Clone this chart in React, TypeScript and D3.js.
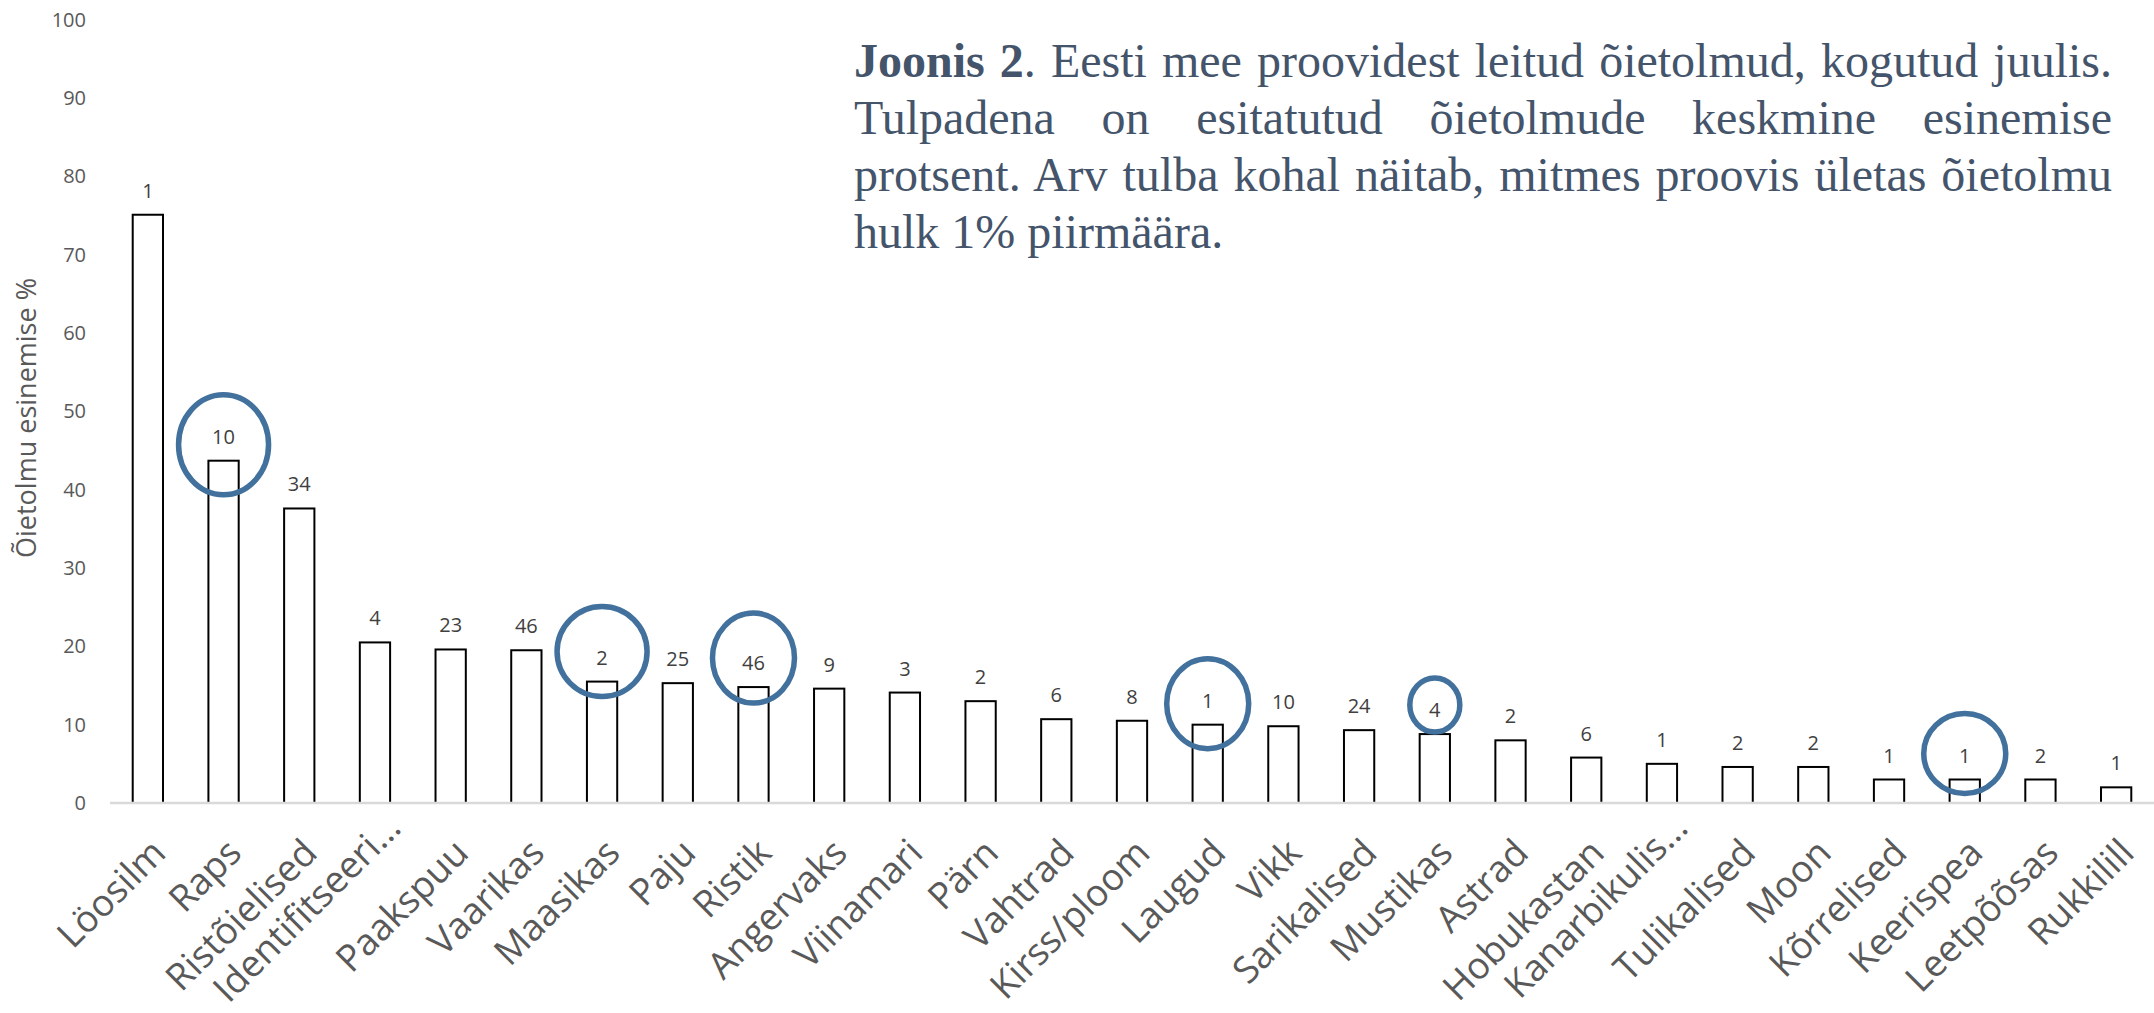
import { useEffect, useRef } from 'react';
import * as d3 from 'd3';

// Pollen types, mean occurrence % and number of samples above the 1% limit
const categories = [
  'Löosilm', 'Raps', 'Ristõielised', 'Identifitseeri…', 'Paakspuu', 'Vaarikas',
  'Maasikas', 'Paju', 'Ristik', 'Angervaks', 'Viinamari', 'Pärn', 'Vahtrad',
  'Kirss/ploom', 'Laugud', 'Vikk', 'Sarikalised', 'Mustikas', 'Astrad',
  'Hobukastan', 'Kanarbikulis…', 'Tulikalised', 'Moon', 'Kõrrelised',
  'Keerispea', 'Leetpõõsas', 'Rukkilill'
];
const values = [
  75.1, 43.7, 37.6, 20.5, 19.6, 19.5, 15.5, 15.3, 14.8, 14.6, 14.1, 13.0, 10.7,
  10.5, 10.0, 9.8, 9.3, 8.8, 8.0, 5.8, 5.0, 4.6, 4.6, 3.0, 3.0, 3.0, 2.0
];
const counts = [
  1, 10, 34, 4, 23, 46, 2, 25, 46, 9, 3, 2, 6, 8, 1, 10, 24, 4, 2, 6, 1, 2, 2, 1, 1, 2, 1
];
const yTicks = [0, 10, 20, 30, 40, 50, 60, 70, 80, 90, 100];
const circled = ['Raps', 'Maasikas', 'Ristik', 'Laugud', 'Mustikas', 'Keerispea'];

const yTitle = 'Õietolmu esinemise %';
const captionBold = 'Joonis 2';
const captionLines = [
  '. Eesti mee proovidest leitud õietolmud, kogutud juulis.',
  'Tulpadena on esitatutud õietolmude keskmine esinemise',
  'protsent. Arv tulba kohal näitab, mitmes proovis ületas õietolmu',
  'hulk 1% piirmäära.'
];

// hand drawn ellipse sizes around some of the labels
const circleShape: Record<string, { rx: number; ry: number; dy: number }> = {
  Raps: { rx: 45, ry: 50, dy: 16 },
  Maasikas: { rx: 45, ry: 45, dy: 30 },
  Ristik: { rx: 41, ry: 45, dy: 29 },
  Laugud: { rx: 41, ry: 45, dy: 21 },
  Mustikas: { rx: 25, ry: 27, dy: 29 },
  Keerispea: { rx: 41, ry: 40, dy: 26 }
};

export default function App() {
  const svgRef = useRef<SVGSVGElement>(null);

  useEffect(() => {
    if (!svgRef.current) return;

    const svg = d3.select(svgRef.current);
    svg.selectAll('*').remove();

    const width = 2154;
    const height = 1013;
    const base = 803;
    const top = 19.7;
    const sans = '"Open Sans", "Segoe UI", sans-serif';

    const data = categories.map((name, i) => ({ name, value: values[i], count: counts[i] }));

    const x = d3.scaleBand()
      .domain(categories)
      .range([110, width])
      .paddingInner(0.6)
      .paddingOuter(0.3);

    const y = d3.scaleLinear()
      .domain([0, 100])
      .range([base, top]);

    svg.append('rect')
      .attr('width', width)
      .attr('height', height)
      .attr('fill', 'white');

    // y axis labels
    const yAxis = svg.append('g')
      .attr('transform', 'translate(86,0)')
      .call(d3.axisLeft(y).tickValues(yTicks).tickSize(0).tickPadding(0));
    yAxis.select('.domain').remove();
    yAxis.selectAll('text')
      .attr('font-family', sans)
      .attr('font-size', 20)
      .attr('fill', '#595959');

    // y axis title
    svg.append('text')
      .attr('transform', 'translate(36,418) rotate(-90)')
      .attr('text-anchor', 'middle')
      .attr('font-family', sans)
      .attr('font-size', 27)
      .attr('fill', '#595959')
      .text(yTitle);

    // bars
    svg.selectAll('.bar')
      .data(data)
      .enter().append('rect')
      .attr('class', 'bar')
      .attr('x', d => x(d.name)!)
      .attr('width', x.bandwidth())
      .attr('y', d => y(d.value))
      .attr('height', d => base - y(d.value))
      .attr('fill', 'white')
      .attr('stroke', '#000')
      .attr('stroke-width', 2);

    // baseline
    svg.append('line')
      .attr('x1', 110)
      .attr('x2', width)
      .attr('y1', base)
      .attr('y2', base)
      .attr('stroke', '#d9d9d9')
      .attr('stroke-width', 2.5);

    // x axis labels, rotated (shortened ones sit a bit further out, like Excel)
    const xAxis = svg.append('g')
      .attr('transform', `translate(0,${base})`)
      .call(d3.axisBottom(x).tickSize(0));
    xAxis.select('.domain').remove();
    xAxis.selectAll<SVGTextElement, string>('text')
      .attr('x', 0)
      .attr('y', 0)
      .attr('dy', 0)
      .attr('text-anchor', 'end')
      .attr('transform', d => d.endsWith('…')
        ? 'translate(28,27) rotate(-45)'
        : 'translate(20,52) rotate(-45)')
      .attr('font-family', sans)
      .attr('font-size', 37)
      .attr('fill', '#595959');

    // count labels
    svg.selectAll('.count')
      .data(data)
      .enter().append('text')
      .attr('class', 'count')
      .attr('x', d => x(d.name)! + x.bandwidth() / 2)
      .attr('y', d => y(d.value) - 17)
      .attr('text-anchor', 'middle')
      .attr('font-family', sans)
      .attr('font-size', 20)
      .attr('fill', '#404040')
      .text(d => d.count);

    // blue ellipses
    svg.selectAll('.mark')
      .data(data.filter(d => circled.includes(d.name)))
      .enter().append('ellipse')
      .attr('class', 'mark')
      .attr('cx', d => x(d.name)! + x.bandwidth() / 2)
      .attr('cy', d => y(d.value) - circleShape[d.name].dy)
      .attr('rx', d => circleShape[d.name].rx)
      .attr('ry', d => circleShape[d.name].ry)
      .attr('fill', 'none')
      .attr('stroke', '#41719c')
      .attr('stroke-width', 5.5);

    // caption, justified
    const capLeft = 854;
    const capRight = 2112;
    captionLines.forEach((line, i) => {
      const t = svg.append('text')
        .attr('x', capLeft)
        .attr('y', 77 + i * 57)
        .attr('font-family', '"Liberation Serif", "Times New Roman", serif')
        .attr('font-size', 48)
        .attr('fill', '#44546a');
      if (i === 0) {
        t.append('tspan').attr('font-weight', 'bold').text(captionBold);
      }
      t.append('tspan').text(line);
      if (i < captionLines.length - 1) {
        const node = t.node() as SVGTextElement;
        const natural = node.getComputedTextLength();
        const text = (i === 0 ? captionBold : '') + line;
        const gaps = (text.match(/ /g) || []).length;
        if (gaps > 0) {
          t.attr('word-spacing', (capRight - capLeft - natural) / gaps);
        }
      }
    });
  }, []);

  return (
    <svg
      ref={svgRef}
      width={2154}
      height={1013}
      style={{ position: 'absolute', left: 0, top: 0 }}
    />
  );
}
